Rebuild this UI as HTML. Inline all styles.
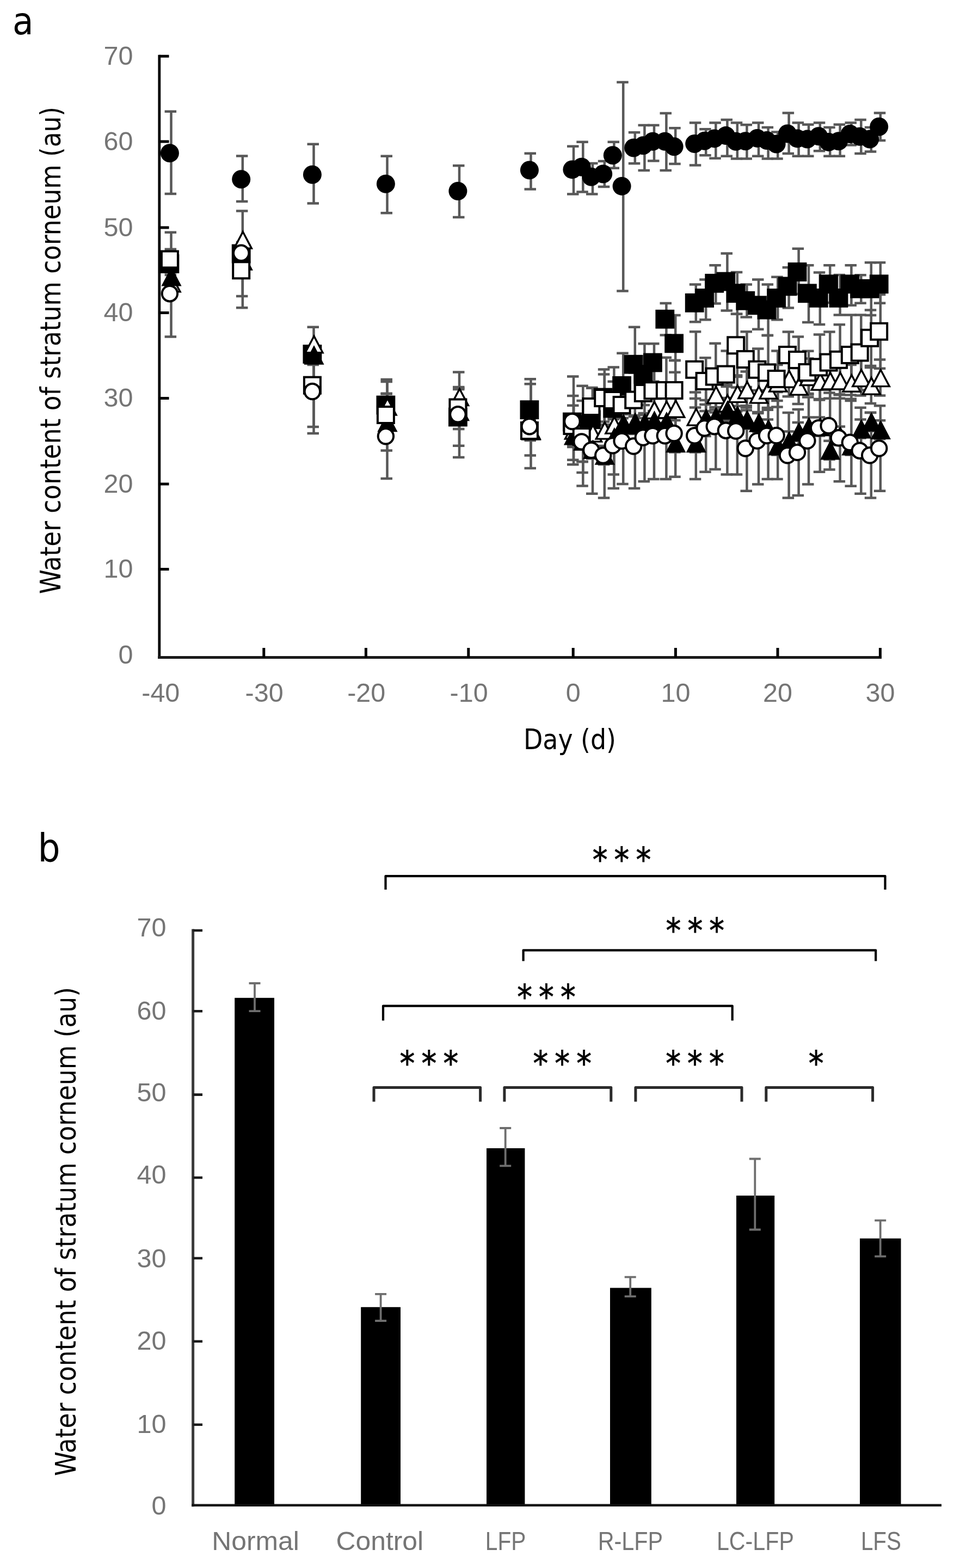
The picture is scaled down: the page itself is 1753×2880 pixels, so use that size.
<!DOCTYPE html>
<html lang="en"><head><meta charset="utf-8"><title>Water content of stratum corneum</title>
<style>html,body{margin:0;padding:0;background:#fff}body{width:1753px;height:2880px;overflow:hidden}svg{display:block;font-family:"DejaVu Sans Condensed", "Liberation Sans", sans-serif}.l{font-family:"Liberation Sans", sans-serif}.s{font-family:"DejaVu Sans", "Liberation Sans", sans-serif}</style>
</head><body>
<svg width="1753" height="2880" viewBox="0 0 1753 2880">
<rect width="1753" height="2880" fill="#fff"/>
<g>
<rect width="1753" height="2880" fill="#fff"/>
<g id="panel-a">
<text x="23" y="62.5" font-size="70" fill="#000">a</text>
<g>
<path d="M314.5 204.7V356.1M302.6 204.7h21.5M302.6 356.1h21.5" stroke="#585858" stroke-width="4.5" fill="none"/>
<path d="M445.8 286.5V370M433.9 286.5h21.5M433.9 370h21.5" stroke="#585858" stroke-width="4.5" fill="none"/>
<path d="M576.5 264.7V373.5M564.5 264.7h21.5M564.5 373.5h21.5" stroke="#585858" stroke-width="4.5" fill="none"/>
<path d="M711.5 286.8V391.2M699.5 286.8h21.5M699.5 391.2h21.5" stroke="#585858" stroke-width="4.5" fill="none"/>
<path d="M844 304.2V399M832 304.2h21.5M832 399h21.5" stroke="#585858" stroke-width="4.5" fill="none"/>
<path d="M975.5 281.8V347.4M963.5 281.8h21.5M963.5 347.4h21.5" stroke="#585858" stroke-width="4.5" fill="none"/>
<path d="M1054 268.7V356.4M1042 268.7h21.5M1042 356.4h21.5" stroke="#585858" stroke-width="4.5" fill="none"/>
<path d="M1071.3 260.8V352.6M1059.3 260.8h21.5M1059.3 352.6h21.5" stroke="#585858" stroke-width="4.5" fill="none"/>
<path d="M1089 300V356.4M1077 300h21.5M1077 356.4h21.5" stroke="#585858" stroke-width="4.5" fill="none"/>
<path d="M1110.8 296V343M1098.8 296h21.5M1098.8 343h21.5" stroke="#585858" stroke-width="4.5" fill="none"/>
<path d="M1128.4 260.8V308.8M1116.5 260.8h21.5M1116.5 308.8h21.5" stroke="#585858" stroke-width="4.5" fill="none"/>
<path d="M1145.2 151V534.6M1133.2 151h21.5M1133.2 534.6h21.5" stroke="#585858" stroke-width="4.5" fill="none"/>
<path d="M1166.8 243.3V300.3M1154.8 243.3h21.5M1154.8 300.3h21.5" stroke="#585858" stroke-width="4.5" fill="none"/>
<path d="M1184.4 229.9V313M1172.5 229.9h21.5M1172.5 313h21.5" stroke="#585858" stroke-width="4.5" fill="none"/>
<path d="M1202 229.9V295.4M1190 229.9h21.5M1190 295.4h21.5" stroke="#585858" stroke-width="4.5" fill="none"/>
<path d="M1224.4 207.9V313M1212.5 207.9h21.5M1212.5 313h21.5" stroke="#585858" stroke-width="4.5" fill="none"/>
<path d="M1241.2 235.2V300.9M1229.2 235.2h21.5M1229.2 300.9h21.5" stroke="#585858" stroke-width="4.5" fill="none"/>
<path d="M1278.8 225.6V303.5M1266.8 225.6h21.5M1266.8 303.5h21.5" stroke="#585858" stroke-width="4.5" fill="none"/>
<path d="M1297.2 237.3V285.3M1285.2 237.3h21.5M1285.2 285.3h21.5" stroke="#585858" stroke-width="4.5" fill="none"/>
<path d="M1315.3 225.6V290.7M1303.3 225.6h21.5M1303.3 290.7h21.5" stroke="#585858" stroke-width="4.5" fill="none"/>
<path d="M1336.4 220V286.8M1324.5 220h21.5M1324.5 286.8h21.5" stroke="#585858" stroke-width="4.5" fill="none"/>
<path d="M1354.8 225.6V291.6M1342.8 225.6h21.5M1342.8 291.6h21.5" stroke="#585858" stroke-width="4.5" fill="none"/>
<path d="M1372.4 229.2V291.6M1360.5 229.2h21.5M1360.5 291.6h21.5" stroke="#585858" stroke-width="4.5" fill="none"/>
<path d="M1394 225.6V286.8M1382 225.6h21.5M1382 286.8h21.5" stroke="#585858" stroke-width="4.5" fill="none"/>
<path d="M1411.6 234V291.6M1399.6 234h21.5M1399.6 291.6h21.5" stroke="#585858" stroke-width="4.5" fill="none"/>
<path d="M1429.2 242.4V291.6M1417.2 242.4h21.5M1417.2 291.6h21.5" stroke="#585858" stroke-width="4.5" fill="none"/>
<path d="M1449.6 207.6V282M1437.6 207.6h21.5M1437.6 282h21.5" stroke="#585858" stroke-width="4.5" fill="none"/>
<path d="M1467.6 225.6V286.8M1455.6 225.6h21.5M1455.6 286.8h21.5" stroke="#585858" stroke-width="4.5" fill="none"/>
<path d="M1486 228.7V286.8M1474 228.7h21.5M1474 286.8h21.5" stroke="#585858" stroke-width="4.5" fill="none"/>
<path d="M1506.8 225.6V277.2M1494.8 225.6h21.5M1494.8 277.2h21.5" stroke="#585858" stroke-width="4.5" fill="none"/>
<path d="M1525.2 234V286.8M1513.2 234h21.5M1513.2 286.8h21.5" stroke="#585858" stroke-width="4.5" fill="none"/>
<path d="M1543.6 228.7V286.8M1531.6 228.7h21.5M1531.6 286.8h21.5" stroke="#585858" stroke-width="4.5" fill="none"/>
<path d="M1564.4 225.6V266.4M1552.5 225.6h21.5M1552.5 266.4h21.5" stroke="#585858" stroke-width="4.5" fill="none"/>
<path d="M1582.3 220V282M1570.3 220h21.5M1570.3 282h21.5" stroke="#585858" stroke-width="4.5" fill="none"/>
<path d="M1600.8 234V278.4M1588.8 234h21.5M1588.8 278.4h21.5" stroke="#585858" stroke-width="4.5" fill="none"/>
<path d="M1617.8 207.6V258M1605.8 207.6h21.5M1605.8 258h21.5" stroke="#585858" stroke-width="4.5" fill="none"/>
<path d="M314.5 470V500M302.6 470h21.5M302.6 500h21.5" stroke="#585858" stroke-width="4.5" fill="none"/>
<path d="M445.8 387.5V544M433.9 387.5h21.5M433.9 544h21.5" stroke="#585858" stroke-width="4.5" fill="none"/>
<path d="M576.5 640V660M564.5 640h21.5M564.5 660h21.5" stroke="#585858" stroke-width="4.5" fill="none"/>
<path d="M711.5 697V791M699.5 697h21.5M699.5 791h21.5" stroke="#585858" stroke-width="4.5" fill="none"/>
<path d="M844 713V818.7M832 713h21.5M832 818.7h21.5" stroke="#585858" stroke-width="4.5" fill="none"/>
<path d="M975.5 696.2V809M963.5 696.2h21.5M963.5 809h21.5" stroke="#585858" stroke-width="4.5" fill="none"/>
<path d="M1054 691.5V853.3M1042 691.5h21.5M1042 853.3h21.5" stroke="#585858" stroke-width="4.5" fill="none"/>
<path d="M1071.3 708.8V848M1059.3 708.8h21.5M1059.3 848h21.5" stroke="#585858" stroke-width="4.5" fill="none"/>
<path d="M1089 712V829M1077 712h21.5M1077 829h21.5" stroke="#585858" stroke-width="4.5" fill="none"/>
<path d="M1110.8 678.4V781.6M1098.8 678.4h21.5M1098.8 781.6h21.5" stroke="#585858" stroke-width="4.5" fill="none"/>
<path d="M1128.4 674.4V785.6M1116.5 674.4h21.5M1116.5 785.6h21.5" stroke="#585858" stroke-width="4.5" fill="none"/>
<path d="M1145.2 648.8V768M1133.2 648.8h21.5M1133.2 768h21.5" stroke="#585858" stroke-width="4.5" fill="none"/>
<path d="M1166.8 600.8V737.6M1154.8 600.8h21.5M1154.8 737.6h21.5" stroke="#585858" stroke-width="4.5" fill="none"/>
<path d="M1184.4 631.2V744M1172.5 631.2h21.5M1172.5 744h21.5" stroke="#585858" stroke-width="4.5" fill="none"/>
<path d="M1202 631.2V700.8M1190 631.2h21.5M1190 700.8h21.5" stroke="#585858" stroke-width="4.5" fill="none"/>
<path d="M1224.4 556.9V615.4M1212.5 556.9h21.5M1212.5 615.4h21.5" stroke="#585858" stroke-width="4.5" fill="none"/>
<path d="M1241.2 579.1V661.9M1229.2 579.1h21.5M1229.2 661.9h21.5" stroke="#585858" stroke-width="4.5" fill="none"/>
<path d="M1278.8 522.4V591.2M1266.8 522.4h21.5M1266.8 591.2h21.5" stroke="#585858" stroke-width="4.5" fill="none"/>
<path d="M1297.2 513.6V587.2M1285.2 513.6h21.5M1285.2 587.2h21.5" stroke="#585858" stroke-width="4.5" fill="none"/>
<path d="M1315.3 487.2V557.6M1303.3 487.2h21.5M1303.3 557.6h21.5" stroke="#585858" stroke-width="4.5" fill="none"/>
<path d="M1336.4 465.6V570.4M1324.5 465.6h21.5M1324.5 570.4h21.5" stroke="#585858" stroke-width="4.5" fill="none"/>
<path d="M1354.8 500V576.8M1342.8 500h21.5M1342.8 576.8h21.5" stroke="#585858" stroke-width="4.5" fill="none"/>
<path d="M1372.4 522.4V582.4M1360.5 522.4h21.5M1360.5 582.4h21.5" stroke="#585858" stroke-width="4.5" fill="none"/>
<path d="M1394 513.6V604.8M1382 513.6h21.5M1382 604.8h21.5" stroke="#585858" stroke-width="4.5" fill="none"/>
<path d="M1411.6 522.4V616M1399.6 522.4h21.5M1399.6 616h21.5" stroke="#585858" stroke-width="4.5" fill="none"/>
<path d="M1429.2 508.8V587.2M1417.2 508.8h21.5M1417.2 587.2h21.5" stroke="#585858" stroke-width="4.5" fill="none"/>
<path d="M1449.6 491.2V565.6M1437.6 491.2h21.5M1437.6 565.6h21.5" stroke="#585858" stroke-width="4.5" fill="none"/>
<path d="M1467.6 456.8V540M1455.6 456.8h21.5M1455.6 540h21.5" stroke="#585858" stroke-width="4.5" fill="none"/>
<path d="M1486 487.2V592M1474 487.2h21.5M1474 592h21.5" stroke="#585858" stroke-width="4.5" fill="none"/>
<path d="M1506.8 500.6V596M1494.8 500.6h21.5M1494.8 596h21.5" stroke="#585858" stroke-width="4.5" fill="none"/>
<path d="M1525.2 487.2V556M1513.2 487.2h21.5M1513.2 556h21.5" stroke="#585858" stroke-width="4.5" fill="none"/>
<path d="M1543.6 505V578.4M1531.6 505h21.5M1531.6 578.4h21.5" stroke="#585858" stroke-width="4.5" fill="none"/>
<path d="M1564.4 487.2V560.8M1552.5 487.2h21.5M1552.5 560.8h21.5" stroke="#585858" stroke-width="4.5" fill="none"/>
<path d="M1582.3 505.3V556.8M1570.3 505.3h21.5M1570.3 556.8h21.5" stroke="#585858" stroke-width="4.5" fill="none"/>
<path d="M1600.8 482.3V579M1588.8 482.3h21.5M1588.8 579h21.5" stroke="#585858" stroke-width="4.5" fill="none"/>
<path d="M1617.8 482.3V556.8M1605.8 482.3h21.5M1605.8 556.8h21.5" stroke="#585858" stroke-width="4.5" fill="none"/>
<path d="M314.5 505V520M302.6 505h21.5M302.6 520h21.5" stroke="#585858" stroke-width="4.5" fill="none"/>
<path d="M445.8 445V460M433.9 445h21.5M433.9 460h21.5" stroke="#585858" stroke-width="4.5" fill="none"/>
<path d="M576.5 600.7V700M564.5 600.7h21.5M564.5 700h21.5" stroke="#585858" stroke-width="4.5" fill="none"/>
<path d="M711.5 701V790M699.5 701h21.5M699.5 790h21.5" stroke="#585858" stroke-width="4.5" fill="none"/>
<path d="M844 715V760M832 715h21.5M832 760h21.5" stroke="#585858" stroke-width="4.5" fill="none"/>
<path d="M975.5 770V800M963.5 770h21.5M963.5 800h21.5" stroke="#585858" stroke-width="4.5" fill="none"/>
<path d="M1054 780V800M1042 780h21.5M1042 800h21.5" stroke="#585858" stroke-width="4.5" fill="none"/>
<path d="M1071.3 790V810M1059.3 790h21.5M1059.3 810h21.5" stroke="#585858" stroke-width="4.5" fill="none"/>
<path d="M1089 785V805M1077 785h21.5M1077 805h21.5" stroke="#585858" stroke-width="4.5" fill="none"/>
<path d="M1110.8 780V800M1098.8 780h21.5M1098.8 800h21.5" stroke="#585858" stroke-width="4.5" fill="none"/>
<path d="M1128.4 770V790M1116.5 770h21.5M1116.5 790h21.5" stroke="#585858" stroke-width="4.5" fill="none"/>
<path d="M1145.2 768V788M1133.2 768h21.5M1133.2 788h21.5" stroke="#585858" stroke-width="4.5" fill="none"/>
<path d="M1166.8 765V785M1154.8 765h21.5M1154.8 785h21.5" stroke="#585858" stroke-width="4.5" fill="none"/>
<path d="M1184.4 767.9V787.9M1172.5 767.9h21.5M1172.5 787.9h21.5" stroke="#585858" stroke-width="4.5" fill="none"/>
<path d="M1202 719.3V785.3M1190 719.3h21.5M1190 785.3h21.5" stroke="#585858" stroke-width="4.5" fill="none"/>
<path d="M1224.4 718.6V784.6M1212.5 718.6h21.5M1212.5 784.6h21.5" stroke="#585858" stroke-width="4.5" fill="none"/>
<path d="M1241.2 683.7V790M1229.2 683.7h21.5M1229.2 790h21.5" stroke="#585858" stroke-width="4.5" fill="none"/>
<path d="M1278.8 732V798M1266.8 732h21.5M1266.8 798h21.5" stroke="#585858" stroke-width="4.5" fill="none"/>
<path d="M1297.2 735V801M1285.2 735h21.5M1285.2 801h21.5" stroke="#585858" stroke-width="4.5" fill="none"/>
<path d="M1315.3 691.5V757.5M1303.3 691.5h21.5M1303.3 757.5h21.5" stroke="#585858" stroke-width="4.5" fill="none"/>
<path d="M1336.4 707V773M1324.5 707h21.5M1324.5 773h21.5" stroke="#585858" stroke-width="4.5" fill="none"/>
<path d="M1354.8 689.5V755.5M1342.8 689.5h21.5M1342.8 755.5h21.5" stroke="#585858" stroke-width="4.5" fill="none"/>
<path d="M1372.4 682.5V748.5M1360.5 682.5h21.5M1360.5 748.5h21.5" stroke="#585858" stroke-width="4.5" fill="none"/>
<path d="M1394 691V757M1382 691h21.5M1382 757h21.5" stroke="#585858" stroke-width="4.5" fill="none"/>
<path d="M1411.6 683V749M1399.6 683h21.5M1399.6 749h21.5" stroke="#585858" stroke-width="4.5" fill="none"/>
<path d="M1429.2 670V736M1417.2 670h21.5M1417.2 736h21.5" stroke="#585858" stroke-width="4.5" fill="none"/>
<path d="M1449.6 662.2V728.2M1437.6 662.2h21.5M1437.6 728.2h21.5" stroke="#585858" stroke-width="4.5" fill="none"/>
<path d="M1467.6 676V742M1455.6 676h21.5M1455.6 742h21.5" stroke="#585858" stroke-width="4.5" fill="none"/>
<path d="M1486 658.4V724.4M1474 658.4h21.5M1474 724.4h21.5" stroke="#585858" stroke-width="4.5" fill="none"/>
<path d="M1506.8 667V733M1494.8 667h21.5M1494.8 733h21.5" stroke="#585858" stroke-width="4.5" fill="none"/>
<path d="M1525.2 665.8V731.8M1513.2 665.8h21.5M1513.2 731.8h21.5" stroke="#585858" stroke-width="4.5" fill="none"/>
<path d="M1543.6 665.8V731.8M1531.6 665.8h21.5M1531.6 731.8h21.5" stroke="#585858" stroke-width="4.5" fill="none"/>
<path d="M1564.4 670.1V736.1M1552.5 670.1h21.5M1552.5 736.1h21.5" stroke="#585858" stroke-width="4.5" fill="none"/>
<path d="M1582.3 660.5V726.5M1570.3 660.5h21.5M1570.3 726.5h21.5" stroke="#585858" stroke-width="4.5" fill="none"/>
<path d="M1600.8 675V741M1588.8 675h21.5M1588.8 741h21.5" stroke="#585858" stroke-width="4.5" fill="none"/>
<path d="M1617.8 660.5V726.5M1605.8 660.5h21.5M1605.8 726.5h21.5" stroke="#585858" stroke-width="4.5" fill="none"/>
<path d="M314.5 500V530M302.6 500h21.5M302.6 530h21.5" stroke="#585858" stroke-width="4.5" fill="none"/>
<path d="M445.8 460V500M433.9 460h21.5M433.9 500h21.5" stroke="#585858" stroke-width="4.5" fill="none"/>
<path d="M576.5 640V670M564.5 640h21.5M564.5 670h21.5" stroke="#585858" stroke-width="4.5" fill="none"/>
<path d="M711.5 722.7V827.5M699.5 722.7h21.5M699.5 827.5h21.5" stroke="#585858" stroke-width="4.5" fill="none"/>
<path d="M844 740V770M832 740h21.5M832 770h21.5" stroke="#585858" stroke-width="4.5" fill="none"/>
<path d="M975.5 770V800M963.5 770h21.5M963.5 800h21.5" stroke="#585858" stroke-width="4.5" fill="none"/>
<path d="M1054 790V844.8M1042 790h21.5M1042 844.8h21.5" stroke="#585858" stroke-width="4.5" fill="none"/>
<path d="M1071.3 790V848M1059.3 790h21.5M1059.3 848h21.5" stroke="#585858" stroke-width="4.5" fill="none"/>
<path d="M1089 808.3V842.3M1077 808.3h21.5M1077 842.3h21.5" stroke="#585858" stroke-width="4.5" fill="none"/>
<path d="M1110.8 819V853M1098.8 819h21.5M1098.8 853h21.5" stroke="#585858" stroke-width="4.5" fill="none"/>
<path d="M1128.4 790V871.5M1116.5 790h21.5M1116.5 871.5h21.5" stroke="#585858" stroke-width="4.5" fill="none"/>
<path d="M1145.2 761V795M1133.2 761h21.5M1133.2 795h21.5" stroke="#585858" stroke-width="4.5" fill="none"/>
<path d="M1166.8 763V797M1154.8 763h21.5M1154.8 797h21.5" stroke="#585858" stroke-width="4.5" fill="none"/>
<path d="M1184.4 759V793M1172.5 759h21.5M1172.5 793h21.5" stroke="#585858" stroke-width="4.5" fill="none"/>
<path d="M1202 755V789M1190 755h21.5M1190 789h21.5" stroke="#585858" stroke-width="4.5" fill="none"/>
<path d="M1224.4 757V791M1212.5 757h21.5M1212.5 791h21.5" stroke="#585858" stroke-width="4.5" fill="none"/>
<path d="M1241.2 796.5V830.5M1229.2 796.5h21.5M1229.2 830.5h21.5" stroke="#585858" stroke-width="4.5" fill="none"/>
<path d="M1278.8 796.5V830.5M1266.8 796.5h21.5M1266.8 830.5h21.5" stroke="#585858" stroke-width="4.5" fill="none"/>
<path d="M1297.2 755V789M1285.2 755h21.5M1285.2 789h21.5" stroke="#585858" stroke-width="4.5" fill="none"/>
<path d="M1315.3 748V782M1303.3 748h21.5M1303.3 782h21.5" stroke="#585858" stroke-width="4.5" fill="none"/>
<path d="M1336.4 736V770M1324.5 736h21.5M1324.5 770h21.5" stroke="#585858" stroke-width="4.5" fill="none"/>
<path d="M1354.8 745.7V779.7M1342.8 745.7h21.5M1342.8 779.7h21.5" stroke="#585858" stroke-width="4.5" fill="none"/>
<path d="M1372.4 753.6V787.6M1360.5 753.6h21.5M1360.5 787.6h21.5" stroke="#585858" stroke-width="4.5" fill="none"/>
<path d="M1394 758.9V792.9M1382 758.9h21.5M1382 792.9h21.5" stroke="#585858" stroke-width="4.5" fill="none"/>
<path d="M1411.6 770.6V804.6M1399.6 770.6h21.5M1399.6 804.6h21.5" stroke="#585858" stroke-width="4.5" fill="none"/>
<path d="M1429.2 801.6V835.6M1417.2 801.6h21.5M1417.2 835.6h21.5" stroke="#585858" stroke-width="4.5" fill="none"/>
<path d="M1449.6 792.6V826.6M1437.6 792.6h21.5M1437.6 826.6h21.5" stroke="#585858" stroke-width="4.5" fill="none"/>
<path d="M1467.6 776V810M1455.6 776h21.5M1455.6 810h21.5" stroke="#585858" stroke-width="4.5" fill="none"/>
<path d="M1486 766.4V800.4M1474 766.4h21.5M1474 800.4h21.5" stroke="#585858" stroke-width="4.5" fill="none"/>
<path d="M1506.8 766.4V800.4M1494.8 766.4h21.5M1494.8 800.4h21.5" stroke="#585858" stroke-width="4.5" fill="none"/>
<path d="M1525.2 809.7V843.7M1513.2 809.7h21.5M1513.2 843.7h21.5" stroke="#585858" stroke-width="4.5" fill="none"/>
<path d="M1543.6 783.4V817.4M1531.6 783.4h21.5M1531.6 817.4h21.5" stroke="#585858" stroke-width="4.5" fill="none"/>
<path d="M1564.4 801.6V835.6M1552.5 801.6h21.5M1552.5 835.6h21.5" stroke="#585858" stroke-width="4.5" fill="none"/>
<path d="M1582.3 770.6V804.6M1570.3 770.6h21.5M1570.3 804.6h21.5" stroke="#585858" stroke-width="4.5" fill="none"/>
<path d="M1600.8 757.8V791.8M1588.8 757.8h21.5M1588.8 791.8h21.5" stroke="#585858" stroke-width="4.5" fill="none"/>
<path d="M1617.8 772.3V806.3M1605.8 772.3h21.5M1605.8 806.3h21.5" stroke="#585858" stroke-width="4.5" fill="none"/>
<path d="M314.5 426.8V526M302.6 426.8h21.5M302.6 526h21.5" stroke="#585858" stroke-width="4.5" fill="none"/>
<path d="M445.8 450V565.3M433.9 450h21.5M433.9 565.3h21.5" stroke="#585858" stroke-width="4.5" fill="none"/>
<path d="M576.5 640V784M564.5 640h21.5M564.5 784h21.5" stroke="#585858" stroke-width="4.5" fill="none"/>
<path d="M711.5 735V790M699.5 735h21.5M699.5 790h21.5" stroke="#585858" stroke-width="4.5" fill="none"/>
<path d="M844 711V788M832 711h21.5M832 788h21.5" stroke="#585858" stroke-width="4.5" fill="none"/>
<path d="M975.5 745.5V836.5M963.5 745.5h21.5M963.5 836.5h21.5" stroke="#585858" stroke-width="4.5" fill="none"/>
<path d="M1054 744.8V819M1042 744.8h21.5M1042 819h21.5" stroke="#585858" stroke-width="4.5" fill="none"/>
<path d="M1071.3 736V868M1059.3 736h21.5M1059.3 868h21.5" stroke="#585858" stroke-width="4.5" fill="none"/>
<path d="M1089 712.8V781M1077 712.8h21.5M1077 781h21.5" stroke="#585858" stroke-width="4.5" fill="none"/>
<path d="M1110.8 687.5V774.5M1098.8 687.5h21.5M1098.8 774.5h21.5" stroke="#585858" stroke-width="4.5" fill="none"/>
<path d="M1128.4 700.8V769M1116.5 700.8h21.5M1116.5 769h21.5" stroke="#585858" stroke-width="4.5" fill="none"/>
<path d="M1145.2 709V779M1133.2 709h21.5M1133.2 779h21.5" stroke="#585858" stroke-width="4.5" fill="none"/>
<path d="M1166.8 684.6V784.6M1154.8 684.6h21.5M1154.8 784.6h21.5" stroke="#585858" stroke-width="4.5" fill="none"/>
<path d="M1184.4 682V762M1172.5 682h21.5M1172.5 762h21.5" stroke="#585858" stroke-width="4.5" fill="none"/>
<path d="M1202 672.3V762.3M1190 672.3h21.5M1190 762.3h21.5" stroke="#585858" stroke-width="4.5" fill="none"/>
<path d="M1224.4 656.8V777M1212.5 656.8h21.5M1212.5 777h21.5" stroke="#585858" stroke-width="4.5" fill="none"/>
<path d="M1241.2 662V772M1229.2 662h21.5M1229.2 772h21.5" stroke="#585858" stroke-width="4.5" fill="none"/>
<path d="M1278.8 609.2V748.4M1266.8 609.2h21.5M1266.8 748.4h21.5" stroke="#585858" stroke-width="4.5" fill="none"/>
<path d="M1297.2 657.2V743M1285.2 657.2h21.5M1285.2 743h21.5" stroke="#585858" stroke-width="4.5" fill="none"/>
<path d="M1315.3 630.8V752.4M1303.3 630.8h21.5M1303.3 752.4h21.5" stroke="#585858" stroke-width="4.5" fill="none"/>
<path d="M1336.4 644.4V731M1324.5 644.4h21.5M1324.5 731h21.5" stroke="#585858" stroke-width="4.5" fill="none"/>
<path d="M1354.8 576.8V692M1342.8 576.8h21.5M1342.8 692h21.5" stroke="#585858" stroke-width="4.5" fill="none"/>
<path d="M1372.4 609.2V711M1360.5 609.2h21.5M1360.5 711h21.5" stroke="#585858" stroke-width="4.5" fill="none"/>
<path d="M1394 640.4V717M1382 640.4h21.5M1382 717h21.5" stroke="#585858" stroke-width="4.5" fill="none"/>
<path d="M1411.6 616V752.8M1399.6 616h21.5M1399.6 752.8h21.5" stroke="#585858" stroke-width="4.5" fill="none"/>
<path d="M1429.2 644.4V747.6M1417.2 644.4h21.5M1417.2 747.6h21.5" stroke="#585858" stroke-width="4.5" fill="none"/>
<path d="M1449.6 609.6V694.4M1437.6 609.6h21.5M1437.6 694.4h21.5" stroke="#585858" stroke-width="4.5" fill="none"/>
<path d="M1467.6 618.4V703.6M1455.6 618.4h21.5M1455.6 703.6h21.5" stroke="#585858" stroke-width="4.5" fill="none"/>
<path d="M1486 644.8V723M1474 644.8h21.5M1474 723h21.5" stroke="#585858" stroke-width="4.5" fill="none"/>
<path d="M1506.8 614.4V734.4M1494.8 614.4h21.5M1494.8 734.4h21.5" stroke="#585858" stroke-width="4.5" fill="none"/>
<path d="M1525.2 609.6V721.6M1513.2 609.6h21.5M1513.2 721.6h21.5" stroke="#585858" stroke-width="4.5" fill="none"/>
<path d="M1543.6 596.3V725.3M1531.6 596.3h21.5M1531.6 725.3h21.5" stroke="#585858" stroke-width="4.5" fill="none"/>
<path d="M1564.4 578.4V725.6M1552.5 578.4h21.5M1552.5 725.6h21.5" stroke="#585858" stroke-width="4.5" fill="none"/>
<path d="M1582.3 578.4V716.5M1570.3 578.4h21.5M1570.3 716.5h21.5" stroke="#585858" stroke-width="4.5" fill="none"/>
<path d="M1600.8 569.6V672M1588.8 569.6h21.5M1588.8 672h21.5" stroke="#585858" stroke-width="4.5" fill="none"/>
<path d="M1617.8 541V676.8M1605.8 541h21.5M1605.8 676.8h21.5" stroke="#585858" stroke-width="4.5" fill="none"/>
<path d="M314.5 457.8V618.4M302.6 457.8h21.5M302.6 618.4h21.5" stroke="#585858" stroke-width="4.5" fill="none"/>
<path d="M445.8 450V480M433.9 450h21.5M433.9 480h21.5" stroke="#585858" stroke-width="4.5" fill="none"/>
<path d="M576.5 640V796M564.5 640h21.5M564.5 796h21.5" stroke="#585858" stroke-width="4.5" fill="none"/>
<path d="M711.5 723.6V879M699.5 723.6h21.5M699.5 879h21.5" stroke="#585858" stroke-width="4.5" fill="none"/>
<path d="M844 683.5V840M832 683.5h21.5M832 840h21.5" stroke="#585858" stroke-width="4.5" fill="none"/>
<path d="M975.5 705.3V860M963.5 705.3h21.5M963.5 860h21.5" stroke="#585858" stroke-width="4.5" fill="none"/>
<path d="M1054 726.9V821M1042 726.9h21.5M1042 821h21.5" stroke="#585858" stroke-width="4.5" fill="none"/>
<path d="M1071.3 801.4V892.4M1059.3 801.4h21.5M1059.3 892.4h21.5" stroke="#585858" stroke-width="4.5" fill="none"/>
<path d="M1089 816.9V906.7M1077 816.9h21.5M1077 906.7h21.5" stroke="#585858" stroke-width="4.5" fill="none"/>
<path d="M1110.8 826.5V914.6M1098.8 826.5h21.5M1098.8 914.6h21.5" stroke="#585858" stroke-width="4.5" fill="none"/>
<path d="M1128.4 808.4V897M1116.5 808.4h21.5M1116.5 897h21.5" stroke="#585858" stroke-width="4.5" fill="none"/>
<path d="M1145.2 799.9V889M1133.2 799.9h21.5M1133.2 889h21.5" stroke="#585858" stroke-width="4.5" fill="none"/>
<path d="M1166.8 809.5V897M1154.8 809.5h21.5M1154.8 897h21.5" stroke="#585858" stroke-width="4.5" fill="none"/>
<path d="M1184.4 793.5V884.3M1172.5 793.5h21.5M1172.5 884.3h21.5" stroke="#585858" stroke-width="4.5" fill="none"/>
<path d="M1202 790.3V880M1190 790.3h21.5M1190 880h21.5" stroke="#585858" stroke-width="4.5" fill="none"/>
<path d="M1224.4 790.3V880M1212.5 790.3h21.5M1212.5 880h21.5" stroke="#585858" stroke-width="4.5" fill="none"/>
<path d="M1241.2 716.3V875.7M1229.2 716.3h21.5M1229.2 875.7h21.5" stroke="#585858" stroke-width="4.5" fill="none"/>
<path d="M1278.8 720.6V880M1266.8 720.6h21.5M1266.8 880h21.5" stroke="#585858" stroke-width="4.5" fill="none"/>
<path d="M1297.2 706V866.8M1285.2 706h21.5M1285.2 866.8h21.5" stroke="#585858" stroke-width="4.5" fill="none"/>
<path d="M1315.3 704.5V861.9M1303.3 704.5h21.5M1303.3 861.9h21.5" stroke="#585858" stroke-width="4.5" fill="none"/>
<path d="M1336.4 709.9V871.5M1324.5 709.9h21.5M1324.5 871.5h21.5" stroke="#585858" stroke-width="4.5" fill="none"/>
<path d="M1354.8 711.5V871.5M1342.8 711.5h21.5M1342.8 871.5h21.5" stroke="#585858" stroke-width="4.5" fill="none"/>
<path d="M1372.4 745.2V901.8M1360.5 745.2h21.5M1360.5 901.8h21.5" stroke="#585858" stroke-width="4.5" fill="none"/>
<path d="M1394 729.6V889.6M1382 729.6h21.5M1382 889.6h21.5" stroke="#585858" stroke-width="4.5" fill="none"/>
<path d="M1411.6 720V880M1399.6 720h21.5M1399.6 880h21.5" stroke="#585858" stroke-width="4.5" fill="none"/>
<path d="M1429.2 720V880M1417.2 720h21.5M1417.2 880h21.5" stroke="#585858" stroke-width="4.5" fill="none"/>
<path d="M1449.6 758V914.6M1437.6 758h21.5M1437.6 914.6h21.5" stroke="#585858" stroke-width="4.5" fill="none"/>
<path d="M1467.6 751.9V909.9M1455.6 751.9h21.5M1455.6 909.9h21.5" stroke="#585858" stroke-width="4.5" fill="none"/>
<path d="M1486 729.6V889.6M1474 729.6h21.5M1474 889.6h21.5" stroke="#585858" stroke-width="4.5" fill="none"/>
<path d="M1506.8 705.4V866.8M1494.8 705.4h21.5M1494.8 866.8h21.5" stroke="#585858" stroke-width="4.5" fill="none"/>
<path d="M1525.2 701.3V862.5M1513.2 701.3h21.5M1513.2 862.5h21.5" stroke="#585858" stroke-width="4.5" fill="none"/>
<path d="M1543.6 724.3V884.3M1531.6 724.3h21.5M1531.6 884.3h21.5" stroke="#585858" stroke-width="4.5" fill="none"/>
<path d="M1564.4 732.8V892.8M1552.5 732.8h21.5M1552.5 892.8h21.5" stroke="#585858" stroke-width="4.5" fill="none"/>
<path d="M1582.3 748.7V906.7M1570.3 748.7h21.5M1570.3 906.7h21.5" stroke="#585858" stroke-width="4.5" fill="none"/>
<path d="M1600.8 758V914.6M1588.8 758h21.5M1588.8 914.6h21.5" stroke="#585858" stroke-width="4.5" fill="none"/>
<path d="M1617.8 745.2V901.8M1605.8 745.2h21.5M1605.8 901.8h21.5" stroke="#585858" stroke-width="4.5" fill="none"/>
</g>
<g>
<circle cx="311.9" cy="281.2" r="17"/>
<circle cx="443.2" cy="329.2" r="17"/>
<circle cx="573.9" cy="320.7" r="17"/>
<circle cx="708.9" cy="337.8" r="17"/>
<circle cx="841.4" cy="351" r="17"/>
<circle cx="972.9" cy="312.5" r="17"/>
<circle cx="1051.4" cy="311.4" r="17"/>
<circle cx="1068.7" cy="306.7" r="17"/>
<circle cx="1086.4" cy="324.8" r="17"/>
<circle cx="1108.2" cy="319.5" r="17"/>
<circle cx="1125.8" cy="285.3" r="17"/>
<circle cx="1142.6" cy="341.9" r="17"/>
<circle cx="1164.2" cy="271.5" r="17"/>
<circle cx="1181.8" cy="267.2" r="17"/>
<circle cx="1199.4" cy="259.7" r="17"/>
<circle cx="1221.8" cy="259.7" r="17"/>
<circle cx="1238.6" cy="269.3" r="17"/>
<circle cx="1276.2" cy="264" r="17"/>
<circle cx="1294.6" cy="258.7" r="17"/>
<circle cx="1312.7" cy="254.4" r="17"/>
<circle cx="1333.8" cy="249.1" r="17"/>
<circle cx="1352.2" cy="259.7" r="17"/>
<circle cx="1369.8" cy="259.2" r="17"/>
<circle cx="1391.4" cy="253.9" r="17"/>
<circle cx="1409" cy="258" r="17"/>
<circle cx="1426.6" cy="264.5" r="17"/>
<circle cx="1447" cy="245.5" r="17"/>
<circle cx="1465" cy="254.4" r="17"/>
<circle cx="1483.4" cy="255.6" r="17"/>
<circle cx="1504.2" cy="250.3" r="17"/>
<circle cx="1522.6" cy="260.9" r="17"/>
<circle cx="1541" cy="259.2" r="17"/>
<circle cx="1561.8" cy="246" r="17"/>
<circle cx="1579.7" cy="250.8" r="17"/>
<circle cx="1598.2" cy="255.6" r="17"/>
<circle cx="1615.2" cy="232.8" r="17"/>
</g>
<g>
<rect x="294.5" y="467.1" width="34.8" height="34.8"/>
<rect x="425.8" y="448.6" width="34.8" height="34.8"/>
<rect x="556.5" y="633.1" width="34.8" height="34.8"/>
<rect x="691.5" y="726.6" width="34.8" height="34.8"/>
<rect x="824" y="748.6" width="34.8" height="34.8"/>
<rect x="955.5" y="735.3" width="34.8" height="34.8"/>
<rect x="1034" y="757.6" width="34.8" height="34.8"/>
<rect x="1051.3" y="762.6" width="34.8" height="34.8"/>
<rect x="1069" y="753.3" width="34.8" height="34.8"/>
<rect x="1090.8" y="712.6" width="34.8" height="34.8"/>
<rect x="1108.4" y="732.6" width="34.8" height="34.8"/>
<rect x="1125.2" y="691" width="34.8" height="34.8"/>
<rect x="1146.8" y="651.8" width="34.8" height="34.8"/>
<rect x="1164.4" y="670.2" width="34.8" height="34.8"/>
<rect x="1182" y="648.6" width="34.8" height="34.8"/>
<rect x="1204.4" y="568.8" width="34.8" height="34.8"/>
<rect x="1221.2" y="613.4" width="34.8" height="34.8"/>
<rect x="1258.8" y="538.9" width="34.8" height="34.8"/>
<rect x="1277.2" y="530.1" width="34.8" height="34.8"/>
<rect x="1295.3" y="502.9" width="34.8" height="34.8"/>
<rect x="1316.4" y="499.7" width="34.8" height="34.8"/>
<rect x="1334.8" y="521.3" width="34.8" height="34.8"/>
<rect x="1352.4" y="534.9" width="34.8" height="34.8"/>
<rect x="1374" y="543.4" width="34.8" height="34.8"/>
<rect x="1391.6" y="551.7" width="34.8" height="34.8"/>
<rect x="1409.2" y="530.1" width="34.8" height="34.8"/>
<rect x="1429.6" y="508.5" width="34.8" height="34.8"/>
<rect x="1447.6" y="482.1" width="34.8" height="34.8"/>
<rect x="1466" y="521.4" width="34.8" height="34.8"/>
<rect x="1486.8" y="530" width="34.8" height="34.8"/>
<rect x="1505.2" y="504.4" width="34.8" height="34.8"/>
<rect x="1523.6" y="530" width="34.8" height="34.8"/>
<rect x="1544.4" y="504.4" width="34.8" height="34.8"/>
<rect x="1562.3" y="512.9" width="34.8" height="34.8"/>
<rect x="1580.8" y="512.9" width="34.8" height="34.8"/>
<rect x="1597.8" y="504.4" width="34.8" height="34.8"/>
</g>
<g>
<path d="M315 505.5L331 535.9H299Z" fill="#fff" stroke="#000" stroke-width="3.4" stroke-linejoin="miter"/>
<path d="M446.3 425.7L462.3 456.1H430.3Z" fill="#fff" stroke="#000" stroke-width="3.4" stroke-linejoin="miter"/>
<path d="M577 617.4L593 647.8H561Z" fill="#fff" stroke="#000" stroke-width="3.4" stroke-linejoin="miter"/>
<path d="M712 731.7L728 762.1H696Z" fill="#fff" stroke="#000" stroke-width="3.4" stroke-linejoin="miter"/>
<path d="M844.5 714.2L860.5 744.6H828.5Z" fill="#fff" stroke="#000" stroke-width="3.4" stroke-linejoin="miter"/>
<path d="M976 775.7L992 806.1H960Z" fill="#fff" stroke="#000" stroke-width="3.4" stroke-linejoin="miter"/>
<path d="M1054.5 775.7L1070.5 806.1H1038.5Z" fill="#fff" stroke="#000" stroke-width="3.4" stroke-linejoin="miter"/>
<path d="M1071.8 785.7L1087.8 816.1H1055.8Z" fill="#fff" stroke="#000" stroke-width="3.4" stroke-linejoin="miter"/>
<path d="M1089.5 780.7L1105.5 811.1H1073.5Z" fill="#fff" stroke="#000" stroke-width="3.4" stroke-linejoin="miter"/>
<path d="M1111.3 775.7L1127.3 806.1H1095.3Z" fill="#fff" stroke="#000" stroke-width="3.4" stroke-linejoin="miter"/>
<path d="M1128.9 765.7L1144.9 796.1H1112.9Z" fill="#fff" stroke="#000" stroke-width="3.4" stroke-linejoin="miter"/>
<path d="M1145.7 763.7L1161.7 794.1H1129.7Z" fill="#fff" stroke="#000" stroke-width="3.4" stroke-linejoin="miter"/>
<path d="M1167.3 760.7L1183.3 791.1H1151.3Z" fill="#fff" stroke="#000" stroke-width="3.4" stroke-linejoin="miter"/>
<path d="M1184.9 763.6L1200.9 794H1168.9Z" fill="#fff" stroke="#000" stroke-width="3.4" stroke-linejoin="miter"/>
<path d="M1202.5 738L1218.5 768.4H1186.5Z" fill="#fff" stroke="#000" stroke-width="3.4" stroke-linejoin="miter"/>
<path d="M1224.9 737.3L1240.9 767.7H1208.9Z" fill="#fff" stroke="#000" stroke-width="3.4" stroke-linejoin="miter"/>
<path d="M1241.7 735.8L1257.7 766.2H1225.7Z" fill="#fff" stroke="#000" stroke-width="3.4" stroke-linejoin="miter"/>
<path d="M1279.3 750.7L1295.3 781.1H1263.3Z" fill="#fff" stroke="#000" stroke-width="3.4" stroke-linejoin="miter"/>
<path d="M1297.7 753.7L1313.7 784.1H1281.7Z" fill="#fff" stroke="#000" stroke-width="3.4" stroke-linejoin="miter"/>
<path d="M1315.8 710.2L1331.8 740.6H1299.8Z" fill="#fff" stroke="#000" stroke-width="3.4" stroke-linejoin="miter"/>
<path d="M1336.9 725.7L1352.9 756.1H1320.9Z" fill="#fff" stroke="#000" stroke-width="3.4" stroke-linejoin="miter"/>
<path d="M1355.3 708.2L1371.3 738.6H1339.3Z" fill="#fff" stroke="#000" stroke-width="3.4" stroke-linejoin="miter"/>
<path d="M1372.9 701.2L1388.9 731.6H1356.9Z" fill="#fff" stroke="#000" stroke-width="3.4" stroke-linejoin="miter"/>
<path d="M1394.5 709.7L1410.5 740.1H1378.5Z" fill="#fff" stroke="#000" stroke-width="3.4" stroke-linejoin="miter"/>
<path d="M1412.1 701.7L1428.1 732.1H1396.1Z" fill="#fff" stroke="#000" stroke-width="3.4" stroke-linejoin="miter"/>
<path d="M1429.7 688.7L1445.7 719.1H1413.7Z" fill="#fff" stroke="#000" stroke-width="3.4" stroke-linejoin="miter"/>
<path d="M1450.1 680.9L1466.1 711.3H1434.1Z" fill="#fff" stroke="#000" stroke-width="3.4" stroke-linejoin="miter"/>
<path d="M1468.1 694.7L1484.1 725.1H1452.1Z" fill="#fff" stroke="#000" stroke-width="3.4" stroke-linejoin="miter"/>
<path d="M1486.5 677.1L1502.5 707.5H1470.5Z" fill="#fff" stroke="#000" stroke-width="3.4" stroke-linejoin="miter"/>
<path d="M1507.3 685.7L1523.3 716.1H1491.3Z" fill="#fff" stroke="#000" stroke-width="3.4" stroke-linejoin="miter"/>
<path d="M1525.7 684.5L1541.7 714.9H1509.7Z" fill="#fff" stroke="#000" stroke-width="3.4" stroke-linejoin="miter"/>
<path d="M1544.1 684.5L1560.1 714.9H1528.1Z" fill="#fff" stroke="#000" stroke-width="3.4" stroke-linejoin="miter"/>
<path d="M1564.9 688.8L1580.9 719.2H1548.9Z" fill="#fff" stroke="#000" stroke-width="3.4" stroke-linejoin="miter"/>
<path d="M1582.8 679.2L1598.8 709.6H1566.8Z" fill="#fff" stroke="#000" stroke-width="3.4" stroke-linejoin="miter"/>
<path d="M1601.3 693.7L1617.3 724.1H1585.3Z" fill="#fff" stroke="#000" stroke-width="3.4" stroke-linejoin="miter"/>
<path d="M1618.3 679.2L1634.3 709.6H1602.3Z" fill="#fff" stroke="#000" stroke-width="3.4" stroke-linejoin="miter"/>
</g>
<g>
<path d="M315 489.8L333.6 525.6H296.4Z"/>
<path d="M446.3 461L464.9 496.8H427.7Z"/>
<path d="M577 634L595.6 669.8H558.4Z"/>
<path d="M712 757.5L730.6 793.3H693.4Z"/>
<path d="M844.5 737.5L863.1 773.3H825.9Z"/>
<path d="M976 773L994.6 808.8H957.4Z"/>
<path d="M1054.5 781.8L1073.1 817.6H1035.9Z"/>
<path d="M1071.8 792L1090.4 827.8H1053.2Z"/>
<path d="M1089.5 807.3L1108.1 843.1H1070.9Z"/>
<path d="M1111.3 818L1129.9 853.8H1092.7Z"/>
<path d="M1128.9 784.8L1147.5 820.6H1110.3Z"/>
<path d="M1145.7 760L1164.3 795.8H1127.1Z"/>
<path d="M1167.3 762L1185.9 797.8H1148.7Z"/>
<path d="M1184.9 758L1203.5 793.8H1166.3Z"/>
<path d="M1202.5 754L1221.1 789.8H1183.9Z"/>
<path d="M1224.9 756L1243.5 791.8H1206.3Z"/>
<path d="M1241.7 795.5L1260.3 831.3H1223.1Z"/>
<path d="M1279.3 795.5L1297.9 831.3H1260.7Z"/>
<path d="M1297.7 754L1316.3 789.8H1279.1Z"/>
<path d="M1315.8 747L1334.4 782.8H1297.2Z"/>
<path d="M1336.9 735L1355.5 770.8H1318.3Z"/>
<path d="M1355.3 744.7L1373.9 780.5H1336.7Z"/>
<path d="M1372.9 752.6L1391.5 788.4H1354.3Z"/>
<path d="M1394.5 757.9L1413.1 793.7H1375.9Z"/>
<path d="M1412.1 769.6L1430.7 805.4H1393.5Z"/>
<path d="M1429.7 800.6L1448.3 836.4H1411.1Z"/>
<path d="M1450.1 791.6L1468.7 827.4H1431.5Z"/>
<path d="M1468.1 775L1486.7 810.8H1449.5Z"/>
<path d="M1486.5 765.4L1505.1 801.2H1467.9Z"/>
<path d="M1507.3 765.4L1525.9 801.2H1488.7Z"/>
<path d="M1525.7 808.7L1544.3 844.5H1507.1Z"/>
<path d="M1544.1 782.4L1562.7 818.2H1525.5Z"/>
<path d="M1564.9 800.6L1583.5 836.4H1546.3Z"/>
<path d="M1582.8 769.6L1601.4 805.4H1564.2Z"/>
<path d="M1601.3 756.8L1619.9 792.6H1582.7Z"/>
<path d="M1618.3 771.3L1636.9 807.1H1599.7Z"/>
</g>
<g>
<rect x="296.9" y="461.5" width="30" height="30" fill="#fff" stroke="#000" stroke-width="4"/>
<rect x="428.2" y="481.3" width="30" height="30" fill="#fff" stroke="#000" stroke-width="4"/>
<rect x="558.9" y="692.7" width="30" height="30" fill="#fff" stroke="#000" stroke-width="4"/>
<rect x="693.9" y="747" width="30" height="30" fill="#fff" stroke="#000" stroke-width="4"/>
<rect x="826.4" y="733.5" width="30" height="30" fill="#fff" stroke="#000" stroke-width="4"/>
<rect x="957.9" y="776" width="30" height="30" fill="#fff" stroke="#000" stroke-width="4"/>
<rect x="1036.4" y="767" width="30" height="30" fill="#fff" stroke="#000" stroke-width="4"/>
<rect x="1053.7" y="787" width="30" height="30" fill="#fff" stroke="#000" stroke-width="4"/>
<rect x="1071.4" y="732" width="30" height="30" fill="#fff" stroke="#000" stroke-width="4"/>
<rect x="1093.2" y="716" width="30" height="30" fill="#fff" stroke="#000" stroke-width="4"/>
<rect x="1110.8" y="720" width="30" height="30" fill="#fff" stroke="#000" stroke-width="4"/>
<rect x="1127.6" y="729" width="30" height="30" fill="#fff" stroke="#000" stroke-width="4"/>
<rect x="1149.2" y="719.6" width="30" height="30" fill="#fff" stroke="#000" stroke-width="4"/>
<rect x="1166.8" y="707" width="30" height="30" fill="#fff" stroke="#000" stroke-width="4"/>
<rect x="1184.4" y="702.3" width="30" height="30" fill="#fff" stroke="#000" stroke-width="4"/>
<rect x="1206.8" y="702" width="30" height="30" fill="#fff" stroke="#000" stroke-width="4"/>
<rect x="1223.6" y="702" width="30" height="30" fill="#fff" stroke="#000" stroke-width="4"/>
<rect x="1261.2" y="663.8" width="30" height="30" fill="#fff" stroke="#000" stroke-width="4"/>
<rect x="1279.6" y="685" width="30" height="30" fill="#fff" stroke="#000" stroke-width="4"/>
<rect x="1297.7" y="676.6" width="30" height="30" fill="#fff" stroke="#000" stroke-width="4"/>
<rect x="1318.8" y="672.6" width="30" height="30" fill="#fff" stroke="#000" stroke-width="4"/>
<rect x="1337.2" y="619.3" width="30" height="30" fill="#fff" stroke="#000" stroke-width="4"/>
<rect x="1354.8" y="645" width="30" height="30" fill="#fff" stroke="#000" stroke-width="4"/>
<rect x="1376.4" y="663.8" width="30" height="30" fill="#fff" stroke="#000" stroke-width="4"/>
<rect x="1394" y="669.4" width="30" height="30" fill="#fff" stroke="#000" stroke-width="4"/>
<rect x="1411.6" y="681" width="30" height="30" fill="#fff" stroke="#000" stroke-width="4"/>
<rect x="1432" y="637" width="30" height="30" fill="#fff" stroke="#000" stroke-width="4"/>
<rect x="1450" y="646" width="30" height="30" fill="#fff" stroke="#000" stroke-width="4"/>
<rect x="1468.4" y="669" width="30" height="30" fill="#fff" stroke="#000" stroke-width="4"/>
<rect x="1489.2" y="659.4" width="30" height="30" fill="#fff" stroke="#000" stroke-width="4"/>
<rect x="1507.6" y="650.6" width="30" height="30" fill="#fff" stroke="#000" stroke-width="4"/>
<rect x="1526" y="645.8" width="30" height="30" fill="#fff" stroke="#000" stroke-width="4"/>
<rect x="1546.8" y="637" width="30" height="30" fill="#fff" stroke="#000" stroke-width="4"/>
<rect x="1564.7" y="632.5" width="30" height="30" fill="#fff" stroke="#000" stroke-width="4"/>
<rect x="1583.2" y="605.8" width="30" height="30" fill="#fff" stroke="#000" stroke-width="4"/>
<rect x="1600.2" y="593.8" width="30" height="30" fill="#fff" stroke="#000" stroke-width="4"/>
</g>
<g>
<circle cx="311.9" cy="539.2" r="14.2" fill="#fff" stroke="#000" stroke-width="4"/>
<circle cx="443.2" cy="464.8" r="14.2" fill="#fff" stroke="#000" stroke-width="4"/>
<circle cx="573.9" cy="719" r="14.2" fill="#fff" stroke="#000" stroke-width="4"/>
<circle cx="708.9" cy="801.3" r="14.2" fill="#fff" stroke="#000" stroke-width="4"/>
<circle cx="841.4" cy="761.3" r="14.2" fill="#fff" stroke="#000" stroke-width="4"/>
<circle cx="972.9" cy="783.2" r="14.2" fill="#fff" stroke="#000" stroke-width="4"/>
<circle cx="1051.4" cy="774" r="14.2" fill="#fff" stroke="#000" stroke-width="4"/>
<circle cx="1068.7" cy="811.4" r="14.2" fill="#fff" stroke="#000" stroke-width="4"/>
<circle cx="1086.4" cy="826.9" r="14.2" fill="#fff" stroke="#000" stroke-width="4"/>
<circle cx="1108.2" cy="836.5" r="14.2" fill="#fff" stroke="#000" stroke-width="4"/>
<circle cx="1125.8" cy="818.4" r="14.2" fill="#fff" stroke="#000" stroke-width="4"/>
<circle cx="1142.6" cy="809.9" r="14.2" fill="#fff" stroke="#000" stroke-width="4"/>
<circle cx="1164.2" cy="819.5" r="14.2" fill="#fff" stroke="#000" stroke-width="4"/>
<circle cx="1181.8" cy="803.5" r="14.2" fill="#fff" stroke="#000" stroke-width="4"/>
<circle cx="1199.4" cy="800.3" r="14.2" fill="#fff" stroke="#000" stroke-width="4"/>
<circle cx="1221.8" cy="800.3" r="14.2" fill="#fff" stroke="#000" stroke-width="4"/>
<circle cx="1238.6" cy="796" r="14.2" fill="#fff" stroke="#000" stroke-width="4"/>
<circle cx="1276.2" cy="800.3" r="14.2" fill="#fff" stroke="#000" stroke-width="4"/>
<circle cx="1294.6" cy="786.4" r="14.2" fill="#fff" stroke="#000" stroke-width="4"/>
<circle cx="1312.7" cy="783.2" r="14.2" fill="#fff" stroke="#000" stroke-width="4"/>
<circle cx="1333.8" cy="790.7" r="14.2" fill="#fff" stroke="#000" stroke-width="4"/>
<circle cx="1352.2" cy="791.5" r="14.2" fill="#fff" stroke="#000" stroke-width="4"/>
<circle cx="1369.8" cy="823.5" r="14.2" fill="#fff" stroke="#000" stroke-width="4"/>
<circle cx="1391.4" cy="809.6" r="14.2" fill="#fff" stroke="#000" stroke-width="4"/>
<circle cx="1409" cy="800" r="14.2" fill="#fff" stroke="#000" stroke-width="4"/>
<circle cx="1426.6" cy="800" r="14.2" fill="#fff" stroke="#000" stroke-width="4"/>
<circle cx="1447" cy="836.3" r="14.2" fill="#fff" stroke="#000" stroke-width="4"/>
<circle cx="1465" cy="830.9" r="14.2" fill="#fff" stroke="#000" stroke-width="4"/>
<circle cx="1483.4" cy="809.6" r="14.2" fill="#fff" stroke="#000" stroke-width="4"/>
<circle cx="1504.2" cy="786.1" r="14.2" fill="#fff" stroke="#000" stroke-width="4"/>
<circle cx="1522.6" cy="781.9" r="14.2" fill="#fff" stroke="#000" stroke-width="4"/>
<circle cx="1541" cy="804.3" r="14.2" fill="#fff" stroke="#000" stroke-width="4"/>
<circle cx="1561.8" cy="812.8" r="14.2" fill="#fff" stroke="#000" stroke-width="4"/>
<circle cx="1579.7" cy="827.7" r="14.2" fill="#fff" stroke="#000" stroke-width="4"/>
<circle cx="1598.2" cy="836.3" r="14.2" fill="#fff" stroke="#000" stroke-width="4"/>
<circle cx="1615.2" cy="823.5" r="14.2" fill="#fff" stroke="#000" stroke-width="4"/>
</g>
<path d="M292.8 100.7V1210" stroke="#000" stroke-width="4.8" fill="none"/>
<path d="M290.2 1207.5H1620" stroke="#1a1a1a" stroke-width="5" fill="none"/>
<path d="M292.8 103.2H310.5M292.8 260H310.5M292.8 418H310.5M292.8 574.4H310.5M292.8 731.6H310.5M292.8 889H310.5M292.8 1045.6H310.5" stroke="#000" stroke-width="5" fill="none"/>
<path d="M484.8 1190V1207.5M672.4 1190V1207.5M860.8 1190V1207.5M1053.2 1190V1207.5M1241.4 1190V1207.5M1429 1190V1207.5M1617.4 1190V1207.5" stroke="#000" stroke-width="5" fill="none"/>
<g font-size="48.5" fill="#757575" text-anchor="end" class="l">
<text x="244.5" y="118.9">70</text>
<text x="244.5" y="275.7">60</text>
<text x="244.5" y="433.7">50</text>
<text x="244.5" y="590.1">40</text>
<text x="244.5" y="747.3">30</text>
<text x="244.5" y="904.7">20</text>
<text x="244.5" y="1061.3">10</text>
<text x="244.5" y="1219.3">0</text>
</g>
<g font-size="48.5" fill="#757575" text-anchor="middle" class="l">
<text x="485.6" y="1289">-30</text>
<text x="673.2" y="1289">-20</text>
<text x="861.6" y="1289">-10</text>
<text x="1053.2" y="1289">0</text>
<text x="1241.4" y="1289">10</text>
<text x="1429" y="1289">20</text>
<text x="1617.4" y="1289">30</text>
<text x="295.3" y="1289">-40</text>
</g>
<text x="962" y="1376" font-size="52" textLength="170" lengthAdjust="spacingAndGlyphs" fill="#000">Day (d)</text>
<text transform="translate(110.6 1091) rotate(-90)" font-size="52" textLength="895" lengthAdjust="spacingAndGlyphs" fill="#000">Water content of stratum corneum (au)</text>
</g>
<g id="panel-b">
<text x="69.5" y="1582" font-size="72" fill="#000">b</text>
<rect x="431.2" y="1832.8" width="72.8" height="932" fill="#000"/>
<rect x="663.2" y="2400.8" width="72.8" height="364" fill="#000"/>
<rect x="894" y="2109" width="70.4" height="655.8" fill="#000"/>
<rect x="1121" y="2365.5" width="75.8" height="399.3" fill="#000"/>
<rect x="1353" y="2196" width="70.2" height="568.8" fill="#000"/>
<rect x="1580" y="2274.7" width="75.5" height="490.1" fill="#000"/>
<path d="M468 1806V1857.2M457.5 1806h21M457.5 1857.2h21" stroke="#6e6e6e" stroke-width="3.8" fill="none"/>
<path d="M699.6 2376.8V2426M689.1 2376.8h21M689.1 2426h21" stroke="#6e6e6e" stroke-width="3.8" fill="none"/>
<path d="M928.7 2072V2141.3M918.2 2072h21M918.2 2141.3h21" stroke="#6e6e6e" stroke-width="3.8" fill="none"/>
<path d="M1158.2 2345.7V2381.2M1147.7 2345.7h21M1147.7 2381.2h21" stroke="#6e6e6e" stroke-width="3.8" fill="none"/>
<path d="M1387.3 2128.5V2258.5M1376.8 2128.5h21M1376.8 2258.5h21" stroke="#6e6e6e" stroke-width="3.8" fill="none"/>
<path d="M1617.7 2241.6V2307.7M1607.2 2241.6h21M1607.2 2307.7h21" stroke="#6e6e6e" stroke-width="3.8" fill="none"/>
<path d="M354.6 1706.4V2767.2" stroke="#3a3a3a" stroke-width="5" fill="none"/>
<path d="M352.1 2764.8H1730" stroke="#111" stroke-width="4.6" fill="none"/>
<path d="M354.6 1709H372M354.6 1857.3H372M354.6 2010.6H372M354.6 2163H372M354.6 2311H372M354.6 2463.8H372M354.6 2616.8H372" stroke="#1a1a1a" stroke-width="4.6" fill="none"/>
<g font-size="48.5" fill="#757575" text-anchor="end" class="l">
<text x="305.5" y="1720">70</text>
<text x="305.5" y="1873.4">60</text>
<text x="305.5" y="2022.9">50</text>
<text x="305.5" y="2173.9">40</text>
<text x="305.5" y="2328.4">30</text>
<text x="305.5" y="2479.4">20</text>
<text x="305.5" y="2631.9">10</text>
<text x="305.5" y="2782.4">0</text>
</g>
<g font-size="49" fill="#757575" class="l">
<text x="389.3" y="2846.7" textLength="160.4" lengthAdjust="spacingAndGlyphs">Normal</text>
<text x="617.4" y="2846.7" textLength="160.8" lengthAdjust="spacingAndGlyphs">Control</text>
<text x="891.8" y="2846.7" textLength="74.6" lengthAdjust="spacingAndGlyphs">LFP</text>
<text x="1098.7" y="2846.7" textLength="119.5" lengthAdjust="spacingAndGlyphs">R-LFP</text>
<text x="1316.9" y="2846.7" textLength="142" lengthAdjust="spacingAndGlyphs">LC-LFP</text>
<text x="1581.9" y="2846.7" textLength="74" lengthAdjust="spacingAndGlyphs">LFS</text>
</g>
<text transform="translate(139 2711) rotate(-90)" font-size="52" textLength="898" lengthAdjust="spacingAndGlyphs" fill="#000">Water content of stratum corneum (au)</text>
<path d="M708.5 1634.1V1609.1H1626.5V1634.1" stroke="#000" stroke-width="4.2" fill="none" stroke-linejoin="round"/>
<path d="M961.6 1765.3V1745.3H1609.2V1765.3" stroke="#000" stroke-width="4.2" fill="none" stroke-linejoin="round"/>
<path d="M704 1874.6V1847.6H1345.7V1874.6" stroke="#000" stroke-width="4.2" fill="none" stroke-linejoin="round"/>
<path d="M687 2023.5V1997.5H882.6V2023.5" stroke="#2b2b2b" stroke-width="5" fill="none" stroke-linejoin="round"/>
<path d="M926.9 2023.5V1997.5H1122.8V2023.5" stroke="#2b2b2b" stroke-width="5" fill="none" stroke-linejoin="round"/>
<path d="M1167.9 2023.5V1997.5H1363V2023.5" stroke="#2b2b2b" stroke-width="5" fill="none" stroke-linejoin="round"/>
<path d="M1407.8 2023.5V1997.5H1603.6V2023.5" stroke="#2b2b2b" stroke-width="5" fill="none" stroke-linejoin="round"/>
<text transform="translate(1088.7 1600.6) scale(0.88 1)" font-size="63" fill="#000" stroke="#000" stroke-width="0.9" letter-spacing="13.84" class="s">***</text>
<text transform="translate(1223.5 1731.3) scale(0.88 1)" font-size="63" fill="#000" stroke="#000" stroke-width="0.9" letter-spacing="13.84" class="s">***</text>
<text transform="translate(950.2 1852.7) scale(0.88 1)" font-size="63" fill="#000" stroke="#000" stroke-width="0.9" letter-spacing="13.84" class="s">***</text>
<text transform="translate(734.6 1974.8) scale(0.88 1)" font-size="63" fill="#000" stroke="#000" stroke-width="0.9" letter-spacing="13.84" class="s">***</text>
<text transform="translate(979.4 1974.8) scale(0.88 1)" font-size="63" fill="#000" stroke="#000" stroke-width="0.9" letter-spacing="13.84" class="s">***</text>
<text transform="translate(1223.2 1974.8) scale(0.88 1)" font-size="63" fill="#000" stroke="#000" stroke-width="0.9" letter-spacing="13.84" class="s">***</text>
<text transform="translate(1485.7 1974.8) scale(0.88 1)" font-size="63" fill="#000" stroke="#000" stroke-width="0.9" letter-spacing="13.84" class="s">*</text>
</g>
</g>
</svg></body></html>
